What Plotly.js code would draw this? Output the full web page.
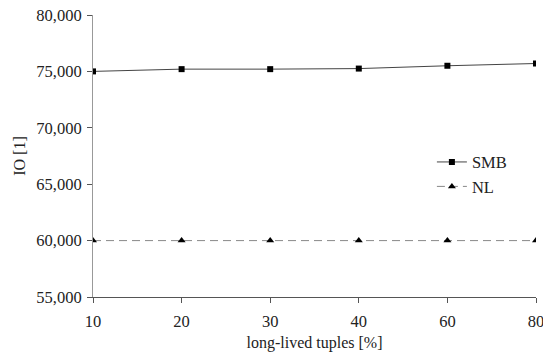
<!DOCTYPE html>
<html><head><meta charset="utf-8">
<script src="https://cdn.plot.ly/plotly-3.0.1.min.js"></script>
<style>html,body{margin:0;padding:0;background:#fff}</style>
</head><body><div id="chart" style="width:543px;height:362px"></div>
<script>
const categories = ['10','20','30','40','60','80'];
const smbValues = [75000, 75200, 75200, 75250, 75500, 75700];
const nlValues = [60000, 60000, 60000, 60000, 60000, 60000];
const yTicks = [55000, 60000, 65000, 70000, 75000, 80000];
const yTickLabels = ['55,000','60,000','65,000','70,000','75,000','80,000'];

const serif = 'Liberation Serif';
const traces = [
  {x: categories, y: smbValues, name: 'SMB', type: 'scatter', mode: 'lines+markers',
   line: {color: '#444', width: 1}, marker: {symbol: 'square', size: 6, color: '#000'}},
  {x: categories, y: nlValues, name: 'NL', type: 'scatter', mode: 'lines+markers',
   line: {color: '#888', width: 1, dash: '8px,5px'}, marker: {symbol: 'triangle-up', size: 7, color: '#000'}}
];
const font = {family: serif, size: 16.5, color: '#222'};
const layout = {
  width: 543, height: 362,
  margin: {l: 93, r: 7, t: 15, b: 65},
  paper_bgcolor: '#fff', plot_bgcolor: '#fff',
  font: font,
  showlegend: true,
  legend: {x: 0.765, y: 0.54, xanchor: 'left', yanchor: 'top', font: {family: serif, size: 16.5, color: '#222'},
           bgcolor: 'rgba(0,0,0,0)', itemwidth: 30, tracegroupgap: 0},
  xaxis: {type: 'category', range: [0, 5], showgrid: false, zeroline: false,
          showline: true, linecolor: '#555', linewidth: 1,
          ticks: 'outside', ticklen: 5, tickcolor: '#555', ticklabelstandoff: 4,
          tickfont: font,
          title: {text: 'long-lived tuples [%]', font: {family: serif, size: 16, color: '#222'}, standoff: 7}},
  yaxis: {range: [55000, 80000], tickvals: yTicks, ticktext: yTickLabels, showgrid: false, zeroline: false,
          showline: true, linecolor: '#999', linewidth: 1,
          ticks: 'outside', ticklen: 5, tickcolor: '#555', ticklabelstandoff: 2,
          tickfont: font,
          title: {text: 'IO [1]', font: {family: serif, size: 16, color: '#222'}, standoff: 6}}
};
Plotly.newPlot('chart', traces, layout, {displayModeBar: false, staticPlot: true});
</script></body></html>
